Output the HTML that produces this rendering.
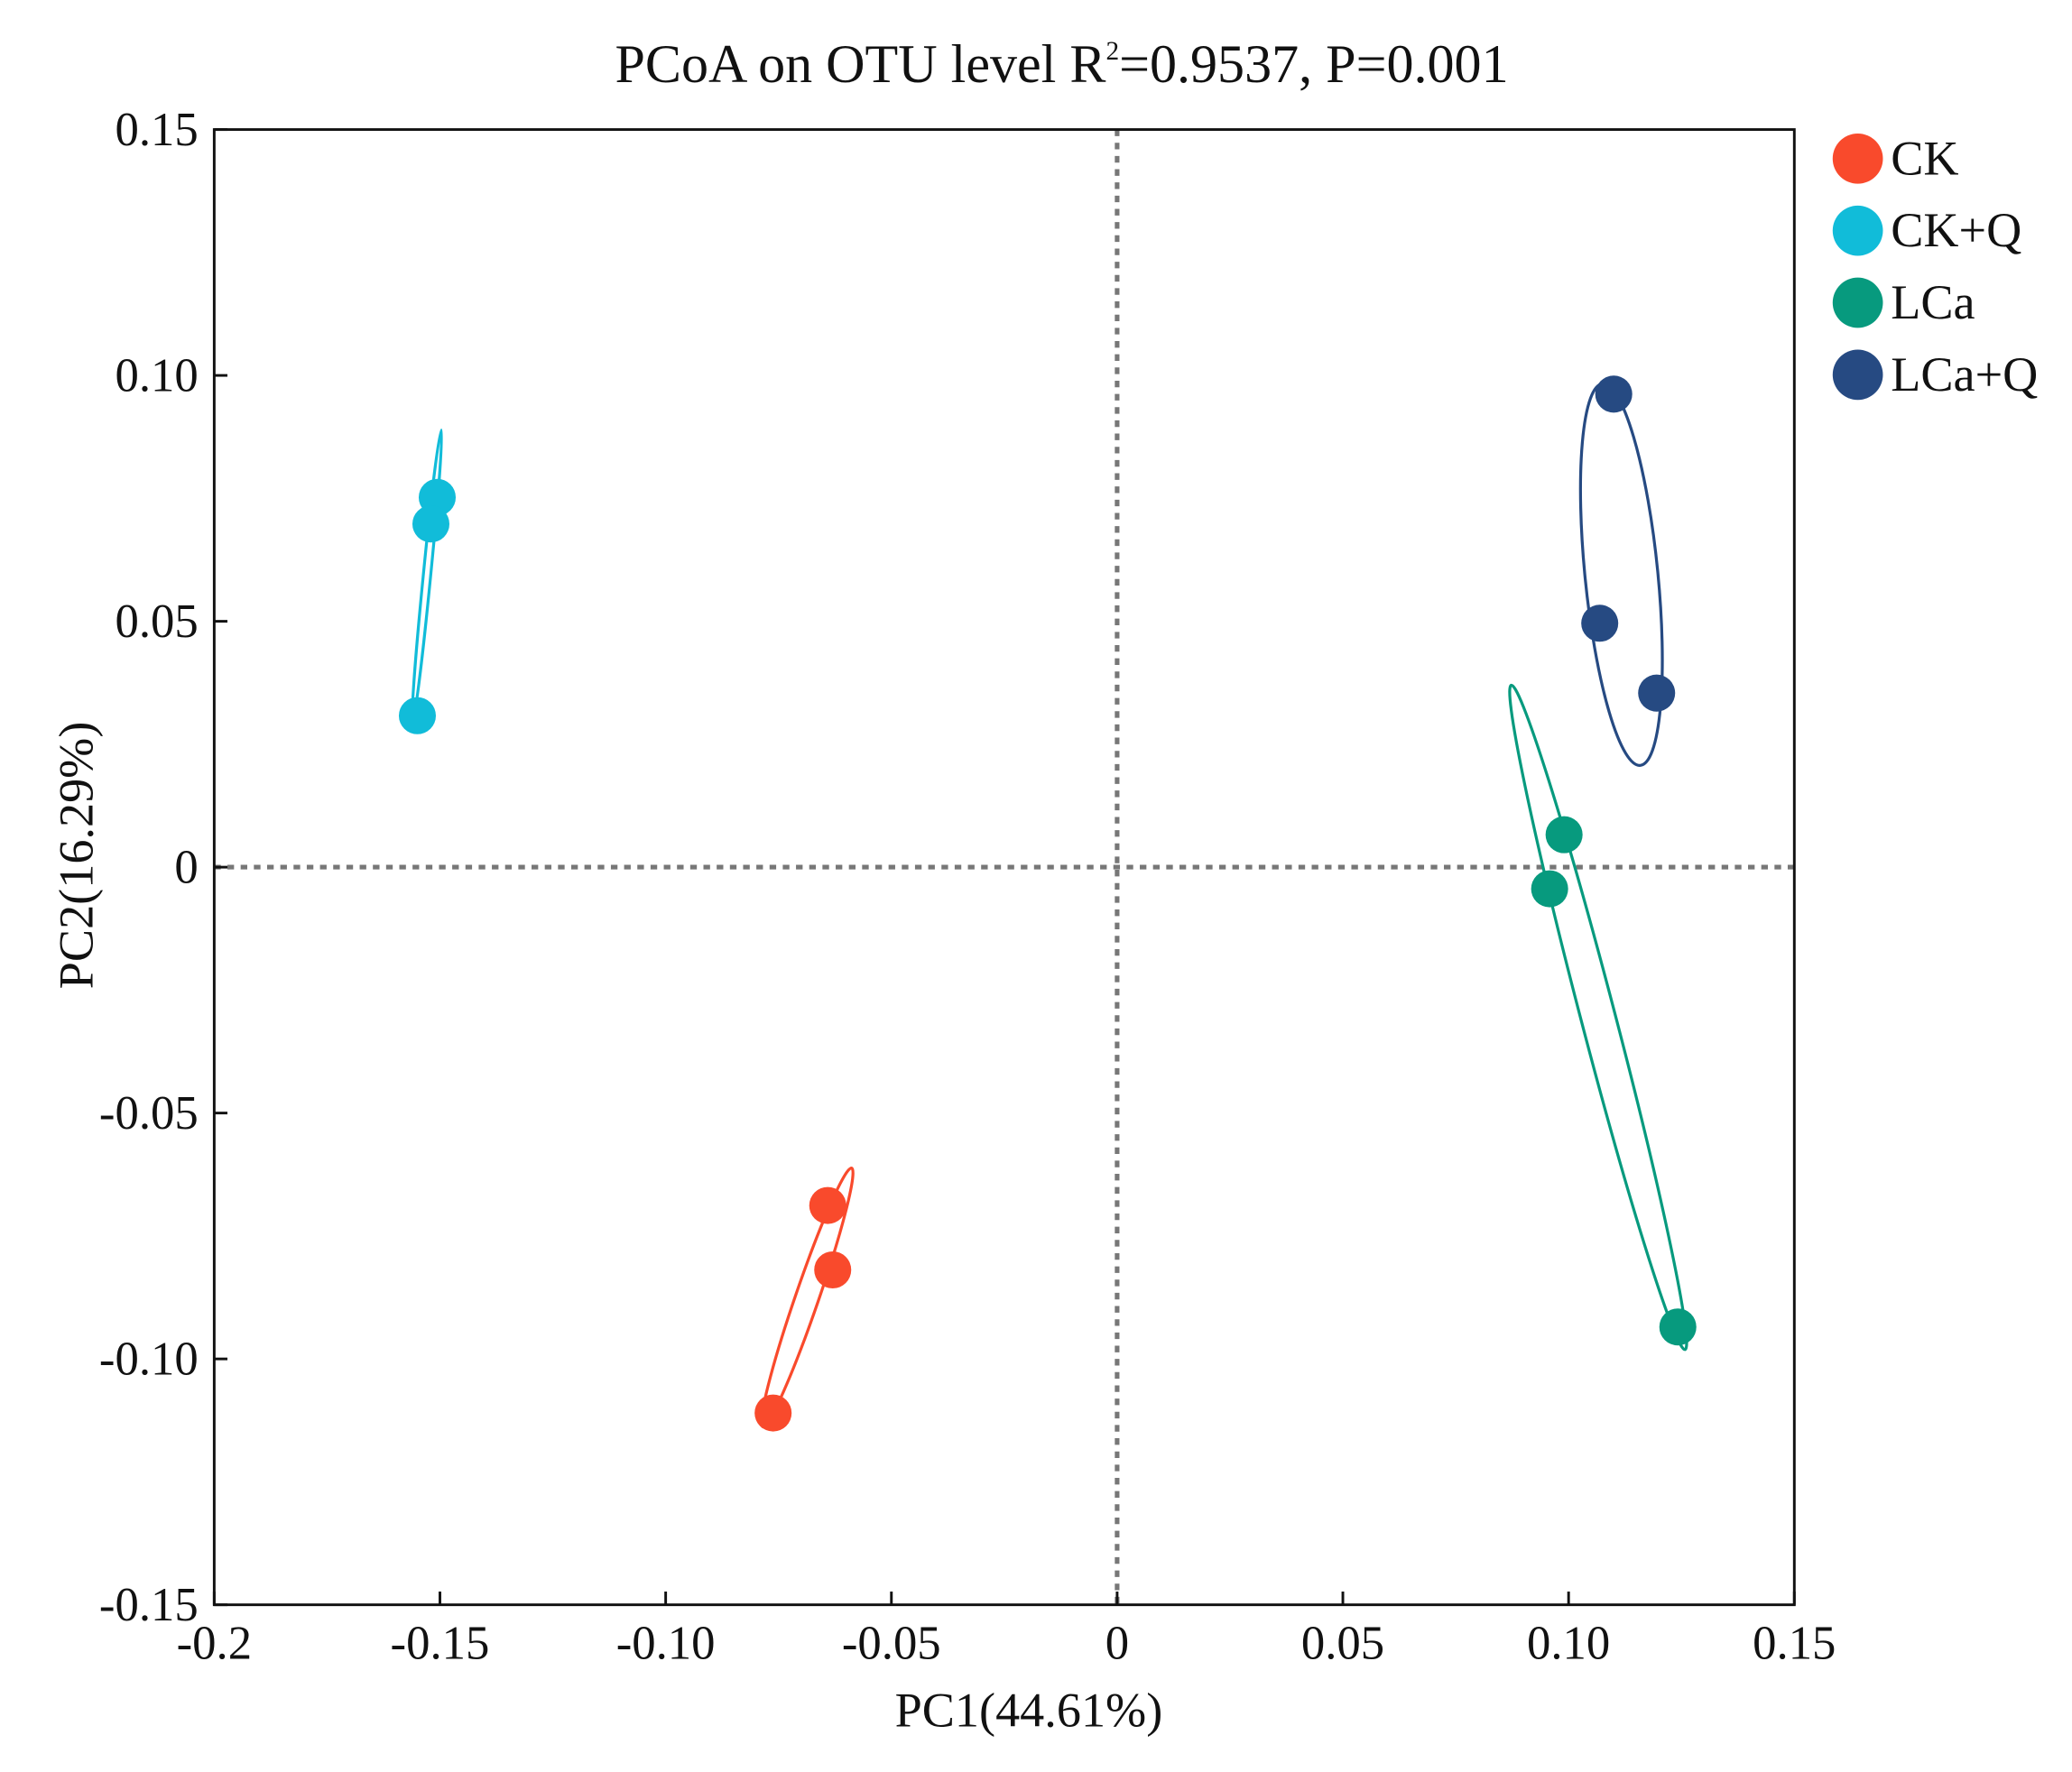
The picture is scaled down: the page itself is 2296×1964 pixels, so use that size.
<!DOCTYPE html>
<html><head><meta charset="utf-8"><style>html,body{margin:0;padding:0;background:#fff}svg{display:block}</style></head>
<body>
<svg width="2296" height="1964" viewBox="0 0 1567 1340.5" preserveAspectRatio="none" xmlns="http://www.w3.org/2000/svg" font-family="'Liberation Serif', serif">
<g id="root"></g>
</svg>
<script>
const groups = ["CK","CK+Q","LCa","LCa+Q"];
const colors = ["#f94a2c","#11bcd9","#079a7e","#264a82"];
const pc1CK = [-0.0641,-0.0630,-0.0762];
const pc2CK = [-0.0688,-0.0819,-0.1110];
const pc1CKQ = [-0.1506,-0.1520,-0.1550];
const pc2CKQ = [0.0752,0.0698,0.0308];
const pc1LCa = [0.0990,0.0958,0.1242];
const pc2LCa = [0.0066,-0.0044,-0.0935];
const pc1LCaQ = [0.1100,0.1069,0.1195];
const pc2LCaQ = [0.0962,0.0496,0.0354];
// ellipse major-axis endpoints (data units) and minor half-width ratio
const ellTopX = [-0.0588,-0.1497,0.0873,0.1075];
const ellTopY = [-0.0612,0.0889,0.0370,0.0983];
const ellBotX = [-0.0785,-0.1561,0.1258,0.1159];
const ellBotY = [-0.1138,0.0292,-0.0981,0.0207];
const ellMinor = [0.085,0.025,0.05,0.19];
const xTicks = [-0.2,-0.15,-0.10,-0.05,0,0.05,0.10,0.15];
const xTickLabels = ["-0.2","-0.15","-0.10","-0.05","0","0.05","0.10","0.15"];
const yTicks = [0.15,0.10,0.05,0,-0.05,-0.10,-0.15];
const yTickLabels = ["0.15","0.10","0.05","0","-0.05","-0.10","-0.15"];

const L=162,R=1357,T=98,B=1214;
const sx=v=>L+(v+0.2)/0.35*(R-L);
const sy=v=>T+(0.15-v)/0.3*(B-T);
const NS="http://www.w3.org/2000/svg";
const root=document.getElementById('root');
function mk(tag,attrs,parent){const e=document.createElementNS(NS,tag);for(const k in attrs)e.setAttribute(k,attrs[k]);(parent||root).appendChild(e);return e;}

let t=mk('text',{x:803,y:62,'text-anchor':'middle','font-size':41,fill:'#111'});


t.innerHTML='PCoA on OTU level R<tspan font-size="20" dy="-17">2</tspan><tspan dy="17">=0.9537, P=0.001</tspan>';

let z=mk('line',{x1:L,x2:R,y1:sy(0),y2:sy(0),stroke:'#777','stroke-width':3.5,'stroke-dasharray':'5 5'});


z=mk('line',{x1:sx(0),x2:sx(0),y1:T,y2:B,stroke:'#777','stroke-width':3.5,'stroke-dasharray':'5 5'});



let f=mk('rect',{x:L,y:T,width:R-L,height:B-T,fill:'none',stroke:'#111','stroke-width':2});



xTicks.forEach((v,i)=>{
  let l=mk('line',{x1:sx(v),x2:sx(v),y1:B,y2:B-10,stroke:'#111','stroke-width':2});
  
  
  let s=mk('text',{x:sx(v),y:B+41,'text-anchor':'middle','font-size':36,fill:'#111'});
  
  
  s.textContent=xTickLabels[i];
});
yTicks.forEach((v,i)=>{
  let l=mk('line',{x1:L,x2:L+10,y1:sy(v),y2:sy(v),stroke:'#111','stroke-width':2});
  
  
  let s=mk('text',{x:L-12,y:sy(v)+12,'text-anchor':'end','font-size':36,fill:'#111'});
  
  
  s.textContent=yTickLabels[i];
});
let xl=mk('text',{x:778,y:1306,'text-anchor':'middle','font-size':37,fill:'#111'});


xl.textContent='PC1(44.61%)';
let yl=mk('text',{x:0,y:0,'text-anchor':'middle','font-size':37,fill:'#111',transform:'translate(70,647) rotate(-90)'});


yl.textContent='PC2(16.29%)';

const px=[pc1CK,pc1CKQ,pc1LCa,pc1LCaQ], py=[pc2CK,pc2CKQ,pc2LCa,pc2LCaQ];
groups.forEach((g,gi)=>{
  const x1=sx(ellTopX[gi]),y1=sy(ellTopY[gi]),x2=sx(ellBotX[gi]),y2=sy(ellBotY[gi]);
  const cx=(x1+x2)/2,cy=(y1+y2)/2,a=Math.hypot(x2-x1,y2-y1)/2,b=a*ellMinor[gi];
  const ang=Math.atan2(y2-y1,x2-x1)*180/Math.PI;
  let e=mk('ellipse',{cx:cx,cy:cy,rx:a,ry:b,fill:'none',stroke:colors[gi],'stroke-width':2.2,transform:`rotate(${ang} ${cx} ${cy})`});
  
  
  px[gi].forEach((v,i)=>{
    let c=mk('circle',{cx:sx(v),cy:sy(py[gi][i]),r:14,fill:colors[gi]});
    
    
  });
  const ly=120+gi*54.5;
  let lc=mk('circle',{cx:1405,cy:ly,r:19,fill:colors[gi]});
  
  
  let lt=mk('text',{x:1430,y:ly+12,'font-size':37,fill:'#111'});
  
  
  lt.textContent=g;
});
</script>
</body></html>
